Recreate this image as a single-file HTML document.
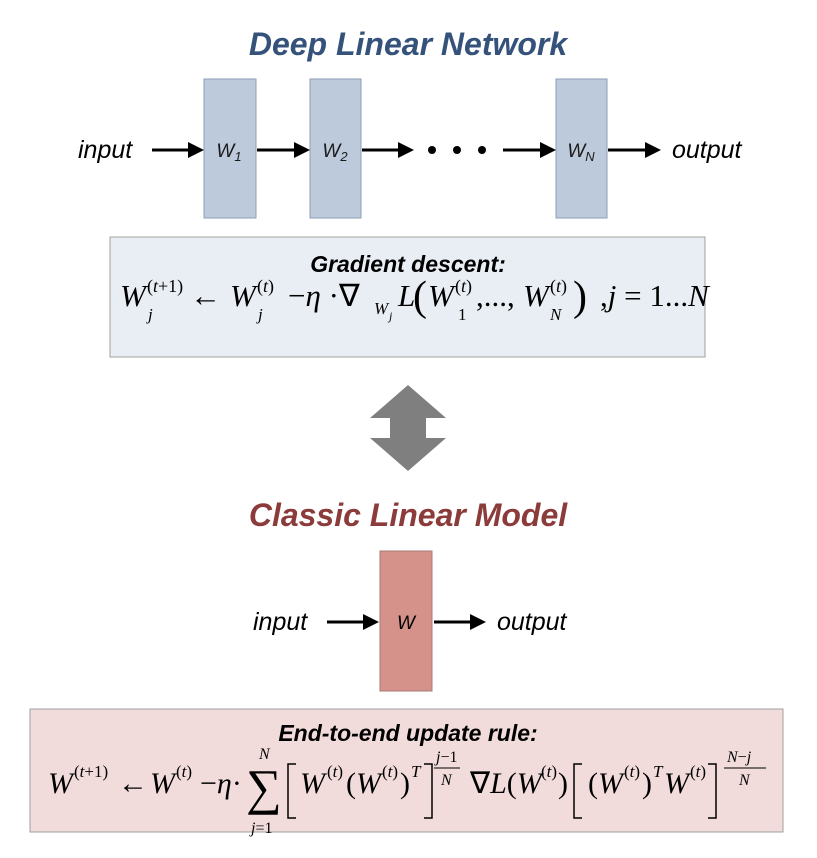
<!DOCTYPE html>
<html><head><meta charset="utf-8"><style>
html,body{margin:0;padding:0;background:#fff;}
svg{display:block;}
.t{font-family:"Liberation Sans",sans-serif;font-style:italic;}
.m{font-family:"Liberation Serif",serif;font-style:italic;}
.r{font-family:"Liberation Serif",serif;font-style:normal;}
</style></head><body>
<svg width="817" height="858" viewBox="0 0 817 858" xmlns="http://www.w3.org/2000/svg">
<text x="408" y="55" text-anchor="middle" class="t" font-weight="bold" font-size="32" fill="#34527a">Deep Linear Network</text>
<g fill="#bccadc" stroke="#8e9db3" stroke-width="1">
<rect x="204" y="79" width="52" height="139"/><rect x="310" y="79" width="51" height="139"/><rect x="556" y="79" width="51" height="139"/></g>
<g class="t" font-size="25" fill="#000">
<text x="78" y="158">input</text><text x="672" y="158">output</text></g>
<g class="t" font-size="19" fill="#1a1a1a" text-anchor="middle">
<text x="229" y="157">W<tspan font-size="13" dy="4">1</tspan></text>
<text x="335" y="157">W<tspan font-size="13" dy="4">2</tspan></text>
<text x="581" y="157">W<tspan font-size="13" dy="4">N</tspan></text></g>
<g stroke="#000" stroke-width="3">
<line x1="152" y1="150" x2="190" y2="150"/><line x1="257" y1="150" x2="296" y2="150"/><line x1="362" y1="150" x2="400" y2="150"/><line x1="503" y1="150" x2="542" y2="150"/><line x1="608" y1="150" x2="647" y2="150"/>
<line x1="327" y1="622" x2="365" y2="622"/><line x1="434" y1="622" x2="472" y2="622"/></g>
<g fill="#000">
<path d="M188,142 L204,150 L188,158Z"/><path d="M294,142 L310,150 L294,158Z"/><path d="M398,142 L414,150 L398,158Z"/><path d="M540,142 L556,150 L540,158Z"/><path d="M645,142 L661,150 L645,158Z"/>
<path d="M363,614 L379,622 L363,630Z"/><path d="M470,614 L486,622 L470,630Z"/>
<circle cx="432" cy="150" r="4"/><circle cx="457" cy="150" r="4"/><circle cx="482" cy="150" r="4"/></g>
<rect x="110" y="237" width="595" height="120" fill="#e9eef5" stroke="#a0a0a0"/>
<text x="408" y="272" text-anchor="middle" class="t" font-weight="bold" font-size="23">Gradient descent:</text>
<g font-size="31" fill="#000">
<text x="120" y="306" class="m">W</text>
<text x="147" y="292" class="r" font-size="18">(<tspan class="m">t</tspan>+1)</text>
<text x="148" y="320" class="m" font-size="17">j</text>
<text x="190" y="306" class="r">←</text>
<text x="230" y="306" class="m">W</text>
<text x="257" y="292" class="r" font-size="18">(<tspan class="m">t</tspan>)</text>
<text x="258" y="320" class="m" font-size="17">j</text>
<text x="288" y="306" class="r">−<tspan class="m">η</tspan> ·∇</text>
<text x="374" y="314" class="m" font-size="17">W</text><text x="389" y="320" class="m" font-size="12">j</text>
<text x="398" y="306" class="m">L</text>
<text x="413" y="310" class="r" font-size="42">(</text>
<text x="428" y="306" class="m">W</text>
<text x="455" y="292" class="r" font-size="18">(<tspan class="m">t</tspan>)</text>
<text x="458" y="320" class="r" font-size="17">1</text>
<text x="476" y="306" class="r">,...,</text>
<text x="523" y="306" class="m">W</text>
<text x="550" y="292" class="r" font-size="18">(<tspan class="m">t</tspan>)</text>
<text x="550" y="320" class="m" font-size="17">N</text>
<text x="573" y="310" class="r" font-size="42">)</text>
<text x="600" y="306" class="r">,<tspan class="m">j</tspan> = 1...<tspan class="m">N</tspan></text>
</g>
<path d="M408,385 L446,418 L426,418 L426,438 L446,438 L408,471 L370,438 L390,438 L390,418 L370,418Z" fill="#7f7f7f"/>
<text x="408" y="526" text-anchor="middle" class="t" font-weight="bold" font-size="32" fill="#8c3b3b">Classic Linear Model</text>
<rect x="380" y="551" width="52" height="140" fill="#d4928b" stroke="#a77a76"/>
<text x="406" y="629" text-anchor="middle" class="t" font-size="19">W</text>
<g class="t" font-size="25"><text x="253" y="630">input</text><text x="497" y="630">output</text></g>
<rect x="30" y="709" width="753" height="123" fill="#f2dcdb" stroke="#a0a0a0"/>
<text x="408" y="741" text-anchor="middle" class="t" font-weight="bold" font-size="23">End-to-end update rule:</text>
<g font-size="30" fill="#000">
<text x="48" y="793" class="m">W</text>
<text x="74" y="777" class="r" font-size="17">(<tspan class="m">t</tspan>+1)</text>
<text x="118" y="793" class="r">←</text>
<text x="150" y="793" class="m">W</text>
<text x="176" y="777" class="r" font-size="17">(<tspan class="m">t</tspan>)</text>
<text x="200" y="793" class="r">−<tspan class="m">η</tspan>·</text>
<text x="246" y="804" class="r" font-size="50">∑</text>
<text x="259" y="759" class="m" font-size="16">N</text>
<text x="251" y="833" class="r" font-size="16"><tspan class="m">j</tspan>=1</text>
<path d="M296,764 L288,764 L288,818 L296,818" fill="none" stroke="#000" stroke-width="1.5"/>
<text x="300" y="793" class="m">W</text><text x="327" y="777" class="r" font-size="17">(<tspan class="m">t</tspan>)</text>
<text x="346" y="793" class="r">(<tspan class="m">W</tspan></text><text x="382" y="777" class="r" font-size="17">(<tspan class="m">t</tspan>)</text>
<text x="400" y="793" class="r">)</text><text x="411" y="777" class="m" font-size="17">T</text>
<path d="M424,764 L432,764 L432,818 L424,818" fill="none" stroke="#000" stroke-width="1.5"/>
<text x="436" y="762" class="r" font-size="16"><tspan class="m">j</tspan>−1</text>
<line x1="434" y1="768" x2="460" y2="768" stroke="#000" stroke-width="1"/>
<text x="441" y="785" class="m" font-size="16">N</text>
<text x="470" y="793" class="r">∇<tspan class="m">L</tspan>(<tspan class="m">W</tspan></text>
<text x="541" y="777" class="r" font-size="17">(<tspan class="m">t</tspan>)</text>
<text x="558" y="793" class="r">)</text>
<path d="M582,764 L574,764 L574,818 L582,818" fill="none" stroke="#000" stroke-width="1.5"/>
<text x="588" y="793" class="r">(<tspan class="m">W</tspan></text><text x="624" y="777" class="r" font-size="17">(<tspan class="m">t</tspan>)</text>
<text x="642" y="793" class="r">)</text><text x="653" y="777" class="m" font-size="17">T</text>
<text x="664" y="793" class="m">W</text><text x="690" y="777" class="r" font-size="17">(<tspan class="m">t</tspan>)</text>
<path d="M708,764 L716,764 L716,818 L708,818" fill="none" stroke="#000" stroke-width="1.5"/>
<text x="727" y="762" class="r" font-size="16"><tspan class="m">N</tspan>−<tspan class="m">j</tspan></text>
<line x1="724" y1="768" x2="766" y2="768" stroke="#000" stroke-width="1"/>
<text x="739" y="785" class="m" font-size="16">N</text>
</g>
</svg>
</body></html>
